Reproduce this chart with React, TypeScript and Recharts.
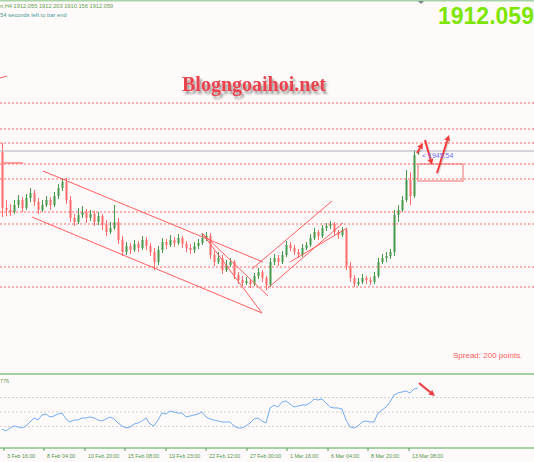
import React from "react";
import {
  ComposedChart,
  LineChart,
  Bar,
  Line,
  XAxis,
  YAxis,
  ReferenceLine,
  ReferenceArea,
} from "recharts";

// H4 bars, oldest first
const opens = [
  1911.5, 1883.5, 1882.5, 1881.5, 1885, 1887.5, 1883.5, 1888.5, 1891, 1886.5,
  1882.5, 1885, 1887.5, 1885, 1889.5, 1893.5, 1896.5, 1887.5, 1878.5, 1876.5,
  1880, 1881.5, 1878.5, 1880.5, 1876.5, 1879.5, 1875, 1871.5, 1873.5, 1876.5,
  1867.5, 1861.5, 1864.5, 1862.5, 1865.5, 1863.5, 1867.5, 1864.5, 1861.5, 1856.5,
  1862.5, 1866.5, 1865, 1867.5, 1866, 1868.5, 1865.5, 1863.5, 1862.5, 1864.5,
  1866, 1868.5, 1869.5, 1860, 1856.5, 1858.5, 1852.5, 1855, 1856.5, 1850,
  1847.5, 1846, 1847, 1845.5, 1849.5, 1851.5, 1848.5, 1845, 1856.5, 1858.5,
  1856.5, 1860, 1865, 1863.5, 1861.5, 1860, 1863.5, 1865, 1868.5, 1871.5,
  1869.5, 1873.5, 1874.5, 1875.5, 1871.5, 1870, 1872.5, 1854.5, 1848.5, 1845.5,
  1846.5, 1848.5, 1847.5, 1846.5, 1849.5, 1856.5, 1858.5, 1859.5, 1861.5, 1880,
  1882.5, 1887.5, 1897.5, 1889.5, 1912.055,
];
const highs = [
  1916, 1887.5, 1885.5, 1887.5, 1890, 1889, 1890.5, 1893.5, 1892.5, 1888.5,
  1887.5, 1889.5, 1889, 1891.5, 1895.5, 1898.5, 1898.5, 1889.5, 1880.5, 1883.5,
  1884.5, 1883, 1882.5, 1882, 1881.5, 1880.5, 1877.5, 1876.5, 1885, 1878.5,
  1869.5, 1866.5, 1866, 1867.5, 1867, 1869.5, 1869, 1866, 1863.5, 1864.5,
  1868.5, 1868, 1870, 1869, 1870.5, 1869.5, 1867, 1865.5, 1866.5, 1868,
  1870.5, 1871.5, 1871, 1862, 1861.5, 1860, 1857.5, 1858.5, 1857.5, 1851.5,
  1849.5, 1849, 1848, 1851, 1853.5, 1852.5, 1849.5, 1858.5, 1860.5, 1860,
  1862, 1867, 1866.5, 1865, 1863, 1865.5, 1866.5, 1870.5, 1873.5, 1872.5,
  1875, 1876, 1877, 1876.5, 1872.5, 1874, 1873.5, 1856.5, 1850, 1848.5,
  1850.5, 1849.5, 1849, 1851.5, 1858.5, 1860.5, 1861.5, 1863, 1882.5, 1885,
  1889.5, 1902.5, 1901.5, 1912.5, 1912.203,
];
const lows = [
  1879, 1879.5, 1879.5, 1880.5, 1883.5, 1881.5, 1882.5, 1886.5, 1884.5, 1880.5,
  1881.5, 1884, 1882.5, 1884, 1888, 1892, 1885.5, 1876.5, 1874.5, 1875.5,
  1878.5, 1876, 1877, 1874.5, 1875, 1872.5, 1869.5, 1870.5, 1872.5, 1865.5,
  1859.5, 1860, 1860.5, 1861.5, 1861.5, 1862.5, 1862.5, 1859.5, 1852.5, 1855,
  1861, 1863, 1864, 1864, 1865, 1863.5, 1861.5, 1860.5, 1861, 1863,
  1865, 1867, 1858, 1854.5, 1855.5, 1850.5, 1851.5, 1854, 1848, 1845.5,
  1844.5, 1845, 1843.5, 1844.5, 1848, 1846.5, 1842.5, 1844, 1855, 1854.5,
  1855.5, 1859, 1862, 1860, 1858.5, 1859, 1862.5, 1864, 1867.5, 1867.5,
  1868.5, 1872, 1873, 1869.5, 1868, 1869, 1852.5, 1846.5, 1844, 1844.5,
  1845.5, 1845.5, 1845, 1845.5, 1848.5, 1855.5, 1856.5, 1858, 1859.5, 1876.5,
  1881.5, 1886.5, 1885, 1888.5, 1910.156,
];
const closes = [
  1883.5, 1882.5, 1881.5, 1885, 1887.5, 1883.5, 1888.5, 1891, 1886.5, 1882.5,
  1885, 1887.5, 1885, 1889.5, 1893.5, 1896.5, 1887.5, 1878.5, 1876.5, 1880,
  1881.5, 1878.5, 1880.5, 1876.5, 1879.5, 1875, 1871.5, 1873.5, 1876.5, 1867.5,
  1861.5, 1864.5, 1862.5, 1865.5, 1863.5, 1867.5, 1864.5, 1861.5, 1856.5, 1862.5,
  1866.5, 1865, 1867.5, 1866, 1868.5, 1865.5, 1863.5, 1862.5, 1864.5, 1866,
  1868.5, 1869.5, 1860, 1856.5, 1858.5, 1852.5, 1855, 1856.5, 1850, 1847.5,
  1846, 1847, 1845.5, 1849.5, 1851.5, 1848.5, 1845, 1856.5, 1858.5, 1856.5,
  1860, 1865, 1863.5, 1861.5, 1860, 1863.5, 1865, 1868.5, 1871.5, 1869.5,
  1873.5, 1874.5, 1875.5, 1871.5, 1870, 1872.5, 1854.5, 1848.5, 1845.5, 1846.5,
  1848.5, 1847.5, 1846.5, 1849.5, 1856.5, 1858.5, 1859.5, 1861.5, 1880, 1882.5,
  1887.5, 1897.5, 1889.5, 1910, 1912.059,
];

// oscillator sub-window, one value per bar
const rsi = [
  26.4, 23.6, 27.8, 30.6, 29.2, 27.8, 30.6, 36.1, 41.7, 38.9,
  45.8, 47.2, 43.1, 44.4, 47.2, 48.6, 40.3, 36.1, 38.9, 38.9,
  41.7, 41.7, 43.1, 41.7, 38.9, 37.5, 40.3, 43.1, 40.3, 34.7,
  30.6, 27.8, 29.2, 33.3, 34.7, 37.5, 41.7, 33.3, 30.6, 38.9,
  48.6, 47.2, 51.4, 50, 48.6, 48.6, 43.1, 44.4, 45.8, 47.2,
  50, 43.1, 40.3, 38.9, 37.5, 36.1, 36.1, 36.1, 30.6, 27.8,
  27.8, 30.6, 34.7, 40.3, 41.7, 37.5, 34.7, 55.6, 59.7, 56.9,
  63.9, 65.3, 61.1, 56.9, 58.3, 59.7, 59.7, 62.5, 68.1, 66.7,
  68.1, 62.5, 56.9, 55.6, 55.6, 54.2, 38.9, 29.2, 27.8, 30.6,
  36.1, 37.5, 36.1, 36.1, 48.6, 52.8, 56.9, 63.9, 73.6, 76.4,
  77.8, 79.2, 76.4, 81.9, 83.3,
];
const rsiLevels = [70, 50, 30];

// time scale labels and the bar they sit on
const timeLabels = [
  "3 Feb 16:00", "8 Feb 04:00", "10 Feb 20:00", "15 Feb 08:00", "19 Feb 23:00",
  "22 Feb 12:00", "27 Feb 00:00", "1 Mar 16:00", "6 Mar 04:00", "8 Mar 20:00",
  "13 Mar 08:00",
];
const timeBars = [0.5, 10.5, 20.75, 30.75, 41, 51, 61.25, 71.25, 81.5, 91.5, 101.75];

// horizontal support/resistance levels and the bid line
const levels = [1936, 1923, 1916, 1905.5, 1898, 1881.5, 1875.5, 1854, 1844];
const bid = 1912;

// trend lines: [bar1, price1, bar2, price2]
const trendLines = [
  [10.25, 1902, 65.25, 1856.5],
  [7.5, 1879, 65, 1831],
  [50, 1871, 66.5, 1839.5],
  [50, 1871, 65, 1831],
  [62.5, 1853, 82.5, 1887],
  [66.5, 1843.5, 85.25, 1876],
  [72, 1856.5, 86.25, 1873.5],
  [-0.5, 1948.5, 1.25, 1949.5],
];
const shelf = [0, 1906, 5.25, 1906];

// projected path arrows
const arrows = [
  [103.75, 1911, 105.25, 1916],
  [105.75, 1917.5, 107.5, 1905],
  [108.75, 1901, 111.75, 1920],
];
const targetBox = [104, 1897, 115.25, 1905.5];
const rsiArrow = [104.25, 90.3, 108.25, 72.2];

const xDomain: [number, number] = [-0.5, 133];
const RED = "#ff5d5d";

const candles = closes.map((c, i) => ({
  bar: i,
  open: opens[i],
  high: highs[i],
  low: lows[i],
  close: c,
  range: [lows[i], highs[i]],
  rsi: rsi[i],
}));

const Candle = (props: any) => {
  const { x, y, width, height, payload } = props;
  const { open, close, high, low } = payload;
  const k = height / (high - low || 1);
  const py = (v: number) => y + (high - v) * k;
  const cx = Math.round(x + width / 2) + 0.5;
  const color = close >= open ? "#45994a" : "#ff6a6a";
  const top = py(Math.max(open, close));
  const bot = py(Math.min(open, close));
  return (
    <g>
      <line x1={cx} x2={cx} y1={y} y2={y + height} stroke={color} strokeWidth={1} />
      <rect x={cx - 1} y={top} width={2} height={Math.max(1, bot - top)} fill={color} />
    </g>
  );
};

const arrowShape = (p: any) => {
  const { x1, y1, x2, y2 } = p;
  const a = Math.atan2(y2 - y1, x2 - x1);
  const L = 6;
  const W = 3;
  const bx = x2 - L * Math.cos(a);
  const by = y2 - L * Math.sin(a);
  const pts = [
    [x2, y2],
    [bx + W * Math.sin(a), by - W * Math.cos(a)],
    [bx - W * Math.sin(a), by + W * Math.cos(a)],
  ]
    .map((q) => q.join(","))
    .join(" ");
  return (
    <g>
      <line x1={x1 + 1} y1={y1 + 1.5} x2={bx + 1} y2={by + 1.5} stroke="rgba(0,0,0,0.12)" strokeWidth={2} />
      <line x1={x1} y1={y1} x2={bx} y2={by} stroke="#f23a3a" strokeWidth={2} />
      <polygon points={pts} fill="#f23a3a" />
    </g>
  );
};

const TimeTick = (p: any) => {
  const i = timeBars.indexOf(p.payload.value);
  return (
    <g>
      <line x1={p.x} x2={p.x} y1={p.y - 8} y2={p.y - 5} stroke="#5aa05a" strokeWidth={1} />
      <text
        x={p.x + 3}
        y={p.y + 1.5}
        fontSize={5.3}
        fontFamily="'Liberation Sans', Arial, sans-serif"
        fill="#4c944c"
      >
        {timeLabels[i]}
      </text>
    </g>
  );
};

const smallFont = "'Liberation Sans', Arial, sans-serif";

export default function App() {
  return (
    <div
      style={{
        position: "absolute",
        left: 0,
        top: 0,
        width: 534,
        height: 462,
        background: "#fffafa",
        overflow: "hidden",
      }}
    >
      {/* price window */}
      <div style={{ position: "absolute", left: 0, top: 0 }}>
        <ComposedChart
          width={534}
          height={372}
          data={candles}
          margin={{ top: 0, right: 0, bottom: 0, left: 0 }}
        >
          <XAxis dataKey="bar" type="number" domain={xDomain} hide allowDataOverflow />
          <YAxis type="number" domain={[1801.5, 1987.5]} hide allowDataOverflow />
          {levels.map((l) => (
            <ReferenceLine key={l} y={l} stroke="#ff6464" strokeDasharray="2 2" strokeWidth={1} />
          ))}
          <ReferenceLine y={bid} stroke="#aeaebd" strokeWidth={1} />
          {trendLines.map((t, i) => (
            <ReferenceLine
              key={i}
              segment={[
                { x: t[0], y: t[1] },
                { x: t[2], y: t[3] },
              ]}
              stroke={RED}
              strokeWidth={1}
              ifOverflow="visible"
            />
          ))}
          <ReferenceLine
            segment={[
              { x: shelf[0], y: shelf[1] },
              { x: shelf[2], y: shelf[3] },
            ]}
            stroke="#ff8080"
            strokeWidth={1.5}
          />
          <Bar dataKey="range" barSize={3} shape={Candle} isAnimationActive={false} />
          <ReferenceArea
            x1={targetBox[0]}
            x2={targetBox[2]}
            y1={targetBox[1]}
            y2={targetBox[3]}
            stroke="#f29c9c"
            strokeWidth={1.5}
            fill="#ffffff"
            fillOpacity={0.2}
            ifOverflow="visible"
          />
          {arrows.map((a, i) => (
            <ReferenceLine
              key={"a" + i}
              segment={[
                { x: a[0], y: a[1] },
                { x: a[2], y: a[3] },
              ]}
              shape={arrowShape}
              ifOverflow="visible"
            />
          ))}
        </ComposedChart>
      </div>

      {/* window separator */}
      <div
        style={{ position: "absolute", left: 0, top: 373, width: 534, height: 2, background: "#a3cfa3" }}
      />

      {/* oscillator window with time scale */}
      <div style={{ position: "absolute", left: 0, top: 374 }}>
        <LineChart
          width={534}
          height={88}
          data={candles}
          margin={{ top: 2, right: 0, bottom: 0, left: 0 }}
        >
          <XAxis
            dataKey="bar"
            type="number"
            domain={xDomain}
            ticks={timeBars}
            interval={0}
            height={14}
            axisLine={{ stroke: "#a6d1a6", strokeWidth: 2 }}
            tickLine={false}
            tick={TimeTick}
            allowDataOverflow
          />
          <YAxis type="number" domain={[0, 100]} hide allowDataOverflow />
          {rsiLevels.map((l) => (
            <ReferenceLine key={l} y={l} stroke="#cdcdcd" strokeDasharray="2 2" />
          ))}
          <Line
            dataKey="rsi"
            type="linear"
            stroke="#6fadf4"
            strokeWidth={1}
            dot={false}
            isAnimationActive={false}
          />
          <ReferenceLine
            segment={[
              { x: rsiArrow[0], y: rsiArrow[1] },
              { x: rsiArrow[2], y: rsiArrow[3] },
            ]}
            shape={arrowShape}
            ifOverflow="visible"
          />
        </LineChart>
      </div>

      {/* terminal texts */}
      <svg
        width={534}
        height={462}
        style={{ position: "absolute", left: 0, top: 0, pointerEvents: "none" }}
      >
        <defs>
          <filter id="wmShadow" x="-10%" y="-40%" width="125%" height="180%">
            <feGaussianBlur in="SourceAlpha" stdDeviation="1.3" result="blur" />
            <feOffset in="blur" dx="2" dy="3" result="off" />
            <feComponentTransfer in="off" result="soft">
              <feFuncA type="linear" slope="0.4" />
            </feComponentTransfer>
            <feMerge>
              <feMergeNode in="soft" />
              <feMergeNode in="SourceGraphic" />
            </feMerge>
          </filter>
        </defs>
        <rect x={0} y={0} width={534} height={1.5} fill="#a8d3a8" />
        <polygon points="418,1 424,1 421,4" fill="#77858a" />
        <text x={0} y={7.5} fontSize={5.7} fontFamily={smallFont} fill="#5f9f52">
          n,H4  1912.055 1912.203 1910.156 1912.059
        </text>
        <text x={0} y={16.5} fontSize={5.8} fontFamily={smallFont} fill="#3f9a96">
          54 seconds left to bar end
        </text>
        <text
          x={438}
          y={24}
          fontSize={23}
          fontWeight="bold"
          fontFamily={smallFont}
          fill="#7de600"
        >
          1912.059
        </text>
        <text
          x={182}
          y={91}
          fontSize={20}
          fontWeight="bold"
          fontFamily="'Liberation Serif', 'Times New Roman', serif"
          fill="#e9434d"
          filter="url(#wmShadow)"
        >
          Blogngoaihoi.net
        </text>
        <text x={422} y={157.5} fontSize={7} fontFamily={smallFont} fill="#6b6bef">
          {"< 1945.54"}
        </text>
        <text x={453} y={358} fontSize={8} fontFamily={smallFont} fill="#ff5a5a">
          Spread: 200 points.
        </text>
        <text x={0} y={383} fontSize={5.5} fontFamily={smallFont} fill="#5f9f52">
          776
        </text>
      </svg>
    </div>
  );
}
